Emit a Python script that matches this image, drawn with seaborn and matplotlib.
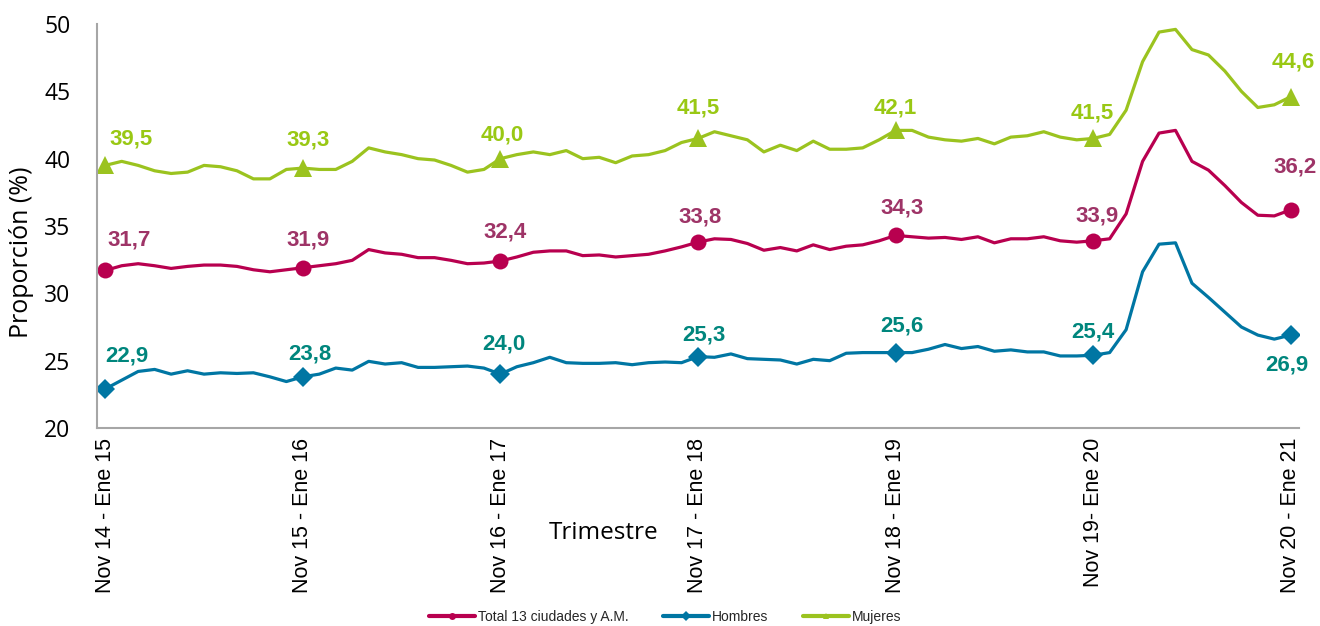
import numpy as np
import pandas as pd
import matplotlib
matplotlib.use("Agg")
import matplotlib.pyplot as plt
import seaborn as sns
from matplotlib.lines import Line2D

# ---------------- data ----------------
tick_labels = ["Nov 14 - Ene 15", "Nov 15 - Ene 16", "Nov 16 - Ene 17",
               "Nov 17 - Ene 18", "Nov 18 - Ene 19", "Nov 19- Ene 20",
               "Nov 20 - Ene 21"]
series_names = ["Total 13 ciudades y A.M.", "Hombres", "Mujeres"]

total = [31.7, 32.05, 32.2, 32.05, 31.85, 32.0, 32.1, 32.1, 32.0, 31.75, 31.6, 31.75,
         31.9, 32.05, 32.2, 32.45, 33.25, 33.0, 32.9, 32.65, 32.65, 32.45, 32.2, 32.25,
         32.4, 32.7, 33.05, 33.15, 33.15, 32.8, 32.85, 32.7, 32.8, 32.9, 33.15, 33.45,
         33.8, 34.05, 34.0, 33.7, 33.2, 33.4, 33.15, 33.6, 33.25, 33.5, 33.6, 33.9,
         34.3, 34.2, 34.1, 34.15, 34.0, 34.2, 33.75, 34.05, 34.05, 34.2, 33.9, 33.8,
         33.9, 34.05, 35.9, 39.8, 41.9, 42.1, 39.8, 39.15, 38.0, 36.75, 35.8, 35.75,
         36.2]
hombres = [22.9, 23.55, 24.2, 24.35, 24.0, 24.25, 24.0, 24.1, 24.05, 24.1, 23.8, 23.45,
           23.8, 24.0, 24.45, 24.3, 24.95, 24.75, 24.85, 24.5, 24.5, 24.55, 24.6, 24.45,
           24.0, 24.55, 24.85, 25.25, 24.85, 24.8, 24.8, 24.85, 24.7, 24.85, 24.9, 24.85,
           25.3, 25.25, 25.5, 25.15, 25.1, 25.05, 24.75, 25.1, 25.0, 25.55, 25.6, 25.6,
           25.6, 25.6, 25.85, 26.2, 25.9, 26.05, 25.7, 25.8, 25.65, 25.65, 25.35, 25.35,
           25.4, 25.6, 27.3, 31.6, 33.65, 33.75, 30.75, 29.7, 28.6, 27.5, 26.9, 26.6,
           26.9]
mujeres = [39.5, 39.8, 39.5, 39.1, 38.9, 39.0, 39.5, 39.4, 39.1, 38.5, 38.5, 39.2,
           39.3, 39.2, 39.2, 39.8, 40.8, 40.5, 40.3, 40.0, 39.9, 39.5, 39.0, 39.2,
           40.0, 40.3, 40.5, 40.3, 40.6, 40.0, 40.1, 39.7, 40.2, 40.3, 40.6, 41.2,
           41.5, 42.0, 41.7, 41.4, 40.5, 41.0, 40.6, 41.3, 40.7, 40.7, 40.8, 41.4,
           42.1, 42.1, 41.6, 41.4, 41.3, 41.5, 41.1, 41.6, 41.7, 42.0, 41.6, 41.4,
           41.5, 41.8, 43.6, 47.2, 49.4, 49.6, 48.1, 47.7, 46.5, 45.0, 43.8, 44.0,
           44.6]

# ---------------- styling ----------------
line_colors = ["#B8004F", "#0076A3", "#9BC31F"]
label_colors = ["#9E3467", "#00867D", "#99C814"]
markers = ["o", "D", "^"]
marker_sizes = [11.5, 10, 12.5]
# label offsets in pixels (x right, y down) relative to the marker
label_off_px = [
    [(24, -30), (5, -28), (5, -29), (2, -25), (6, -27), (4, -25), (4, -43)],
    [(22, -33), (7, -23), (3, -30), (6, -22), (6, -27), (0, -23), (-4, 30)],
    [(26, -26), (5, -28), (2, -24), (0, -30), (0, -22), (-1, -25), (2, -35)],
]

sns.set_theme(style="white")
plt.rcParams["font.family"] = ["Liberation Sans", "DejaVu Sans"]

W, H = 1320, 626
fig = plt.figure(figsize=(W / 100, H / 100), dpi=100)
ax = fig.add_axes([97 / W, 1 - 428 / H, 1202 / W, 404 / H])

n = len(total)
idx = np.arange(n)
df = pd.DataFrame({
    "t": np.tile(idx, 3),
    "v": np.array(total + hombres + mujeres),
    "serie": np.repeat(series_names, n),
})

px2pt = 72 / 100
for k, name in enumerate(series_names):
    sub = df[df["serie"] == name]
    sns.lineplot(data=sub, x="t", y="v", ax=ax, color=line_colors[k], lw=2.3,
                 marker=markers[k], markersize=marker_sizes[k], markevery=12,
                 markeredgecolor=line_colors[k], markeredgewidth=0, legend=False)
    vals = sub["v"].to_numpy()
    for j, i in enumerate(range(0, n, 12)):
        dx, dy = label_off_px[k][j]
        ax.annotate(f"{vals[i]:.1f}".replace(".", ","), (i, vals[i]),
                    xytext=(dx * px2pt, -dy * px2pt), textcoords="offset points",
                    ha="center", va="center", fontsize=16, fontweight="bold",
                    color=label_colors[k])

ax.set_xlim(-0.5, n - 0.5)
ax.set_ylim(20, 50)
ax.set_yticks(np.arange(20, 51, 5))
ax.set_xticks(np.arange(0, n, 12))
ax.set_xticklabels(tick_labels, rotation=90, fontsize=15.5)
ax.set_xticks(np.arange(-0.5, n, 12), minor=True)
ax.tick_params(axis="x", which="major", length=0, pad=7, colors="black")
ax.tick_params(axis="x", which="minor", length=8, width=1.5, direction="inout",
               color="#A6A6A6")
ax.tick_params(axis="y", length=7, width=1.5, direction="out", color="#A6A6A6",
               pad=12, labelsize=16.5, labelcolor="black")
for lab in ax.get_yticklabels():
    lab.set_family(["Open Sans", "DejaVu Sans"])
ax.set_xlabel("")
ax.set_ylabel("")
for s in ["top", "right"]:
    ax.spines[s].set_visible(False)
for s in ["left", "bottom"]:
    ax.spines[s].set_color("#A6A6A6")
    ax.spines[s].set_linewidth(1.5)
ax.grid(False)

fig.text(22 / W, 1 - 252 / H, "Proporción (%)", rotation=90, ha="center", va="center",
         fontsize=18, family=["Open Sans", "DejaVu Sans"], color="black")
fig.text(604 / W, 1 - 533 / H, "Trimestre", ha="center", va="center",
         fontsize=17.5, family=["Open Sans", "DejaVu Sans"], color="black")

handles = [Line2D([0], [0], color=line_colors[k], lw=3, marker=markers[k],
                  markersize=5, markeredgewidth=0) for k in range(3)]
fig.legend(handles, series_names, loc="center", bbox_to_anchor=(665 / W, 1 - 617 / H),
           ncol=3, frameon=False, fontsize=10, handlelength=3.3, handletextpad=0.2,
           columnspacing=2.5, borderaxespad=0)

fig.savefig("out.png", dpi=100, facecolor="white")
